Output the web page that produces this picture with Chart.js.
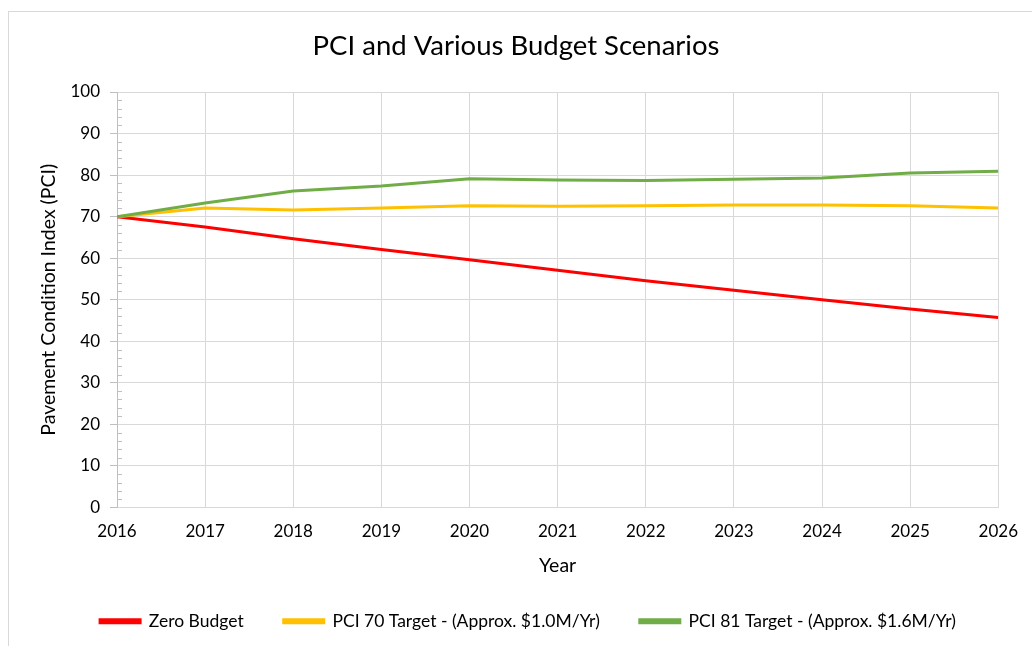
<!DOCTYPE html>
<html>
<head>
<meta charset="utf-8">
<script src="https://cdn.jsdelivr.net/npm/chart.js@4"></script>
<style>
  html, body { margin: 0; padding: 0; background: #fff; }
  #wrap { position: relative; width: 1032px; height: 646px; }
  #frame { position: absolute; left: 8px; top: 11px; right: 0; bottom: 0;
           border-left: 1px solid #d9d9d9; border-top: 1px solid #d9d9d9; }
  canvas { position: absolute; left: 0; top: 0; }
</style>
</head>
<body>
<div id="wrap">
  <div id="frame"></div>
  <canvas id="chart" width="1032" height="646"></canvas>
</div>
<script>
// Dados do gráfico
const years = [2016, 2017, 2018, 2019, 2020, 2021, 2022, 2023, 2024, 2025, 2026];
const zeroBudget = [70, 67.5, 64.7, 62.1, 59.6, 57.1, 54.6, 52.3, 50.0, 47.8, 45.7];
const pci70 = [70, 72.1, 71.6, 72.1, 72.6, 72.5, 72.6, 72.8, 72.8, 72.6, 72.1];
const pci81 = [70, 73.3, 76.2, 77.4, 79.1, 78.8, 78.7, 79.0, 79.3, 80.5, 80.9];
const yTicks = [0, 10, 20, 30, 40, 50, 60, 70, 80, 90, 100];

const FONT = 'Lato, "Open Sans", sans-serif';
const GRID = '#d9d9d9';

function toPoints(values) {
    return years.map((y, i) => ({ x: y, y: values[i] }));
}

// Pequenas marcas menores no eixo Y (a cada 2 unidades)
const minorTicks = {
    id: 'minorTicks',
    afterDraw(chart) {
        const ctx = chart.ctx;
        const yScale = chart.scales.y;
        const x0 = chart.chartArea.left;
        ctx.save();
        ctx.strokeStyle = '#bfbfbf';
        ctx.lineWidth = 1;
        for (let v = 0; v <= 100; v += 2) {
            if (v % 10 === 0) continue;
            const py = Math.round(yScale.getPixelForValue(v)) + 0.5;
            ctx.beginPath();
            ctx.moveTo(x0, py);
            ctx.lineTo(x0 + 5, py);
            ctx.stroke();
        }
        ctx.restore();
    }
};

// Deslocar a legenda um pouco para a direita
const legendShift = {
    id: 'legendShift',
    afterLayout(chart) {
        if (chart.legend) {
            chart.legend.left += 12;
            chart.legend.right += 12;
        }
    }
};

const series = [
    { label: 'Zero Budget', data: zeroBudget, color: '#ff0000', order: 2 },
    { label: 'PCI 70 Target - (Approx. $1.0M/Yr)', data: pci70, color: '#ffc000', order: 1 },
    { label: 'PCI 81 Target - (Approx. $1.6M/Yr)', data: pci81, color: '#70ad47', order: 0 }
];

new Chart(document.getElementById('chart').getContext('2d'), {
    type: 'line',
    data: {
        datasets: series.map(s => ({
            label: s.label,
            data: toPoints(s.data),
            borderColor: s.color,
            backgroundColor: s.color,
            borderWidth: 3,
            pointRadius: 0,
            tension: 0,
            order: s.order
        }))
    },
    options: {
        responsive: false,
        animation: false,
        layout: { padding: { left: 33, right: 33, top: 26, bottom: 6 } },
        plugins: {
            tooltip: { enabled: false },
            title: {
                display: true,
                text: 'PCI and Various Budget Scenarios',
                color: '#000',
                font: { family: FONT, size: 27.5, weight: 'normal' },
                padding: { top: 4, bottom: 29 }
            },
            legend: {
                position: 'bottom',
                labels: {
                    color: '#000',
                    font: { family: FONT, size: 17.5 },
                    boxWidth: 40,
                    boxHeight: 3,
                    padding: 40,
                    sort: (a, b) => a.datasetIndex - b.datasetIndex
                }
            }
        },
        scales: {
            x: {
                type: 'linear',
                min: 2016,
                max: 2026,
                afterBuildTicks: axis => { axis.ticks = years.map(v => ({ value: v })); },
                afterFit: axis => { axis.height = 65; },
                grid: { color: GRID, lineWidth: 1, drawTicks: false },
                border: { color: GRID },
                ticks: {
                    color: '#000',
                    font: { family: FONT, size: 17 },
                    padding: 14,
                    maxRotation: 0,
                    callback: v => String(v)
                },
                title: {
                    display: true,
                    text: 'Year',
                    color: '#000',
                    font: { family: FONT, size: 19.5 },
                    padding: { top: 0, bottom: -5 }
                }
            },
            y: {
                min: 0,
                max: 100,
                afterBuildTicks: axis => { axis.ticks = yTicks.map(v => ({ value: v })); },
                afterFit: axis => { axis.width = 84; },
                grid: { color: GRID, lineWidth: 1, tickLength: 7, tickColor: '#bfbfbf' },
                border: { color: '#bfbfbf' },
                ticks: {
                    color: '#000',
                    font: { family: FONT, size: 17 },
                    padding: 10
                },
                title: {
                    display: true,
                    text: 'Pavement Condition Index (PCI)',
                    color: '#000',
                    font: { family: FONT, size: 19.5 },
                    padding: { bottom: 6 }
                }
            }
        }
    },
    plugins: [minorTicks, legendShift]
});
</script>
</body>
</html>
